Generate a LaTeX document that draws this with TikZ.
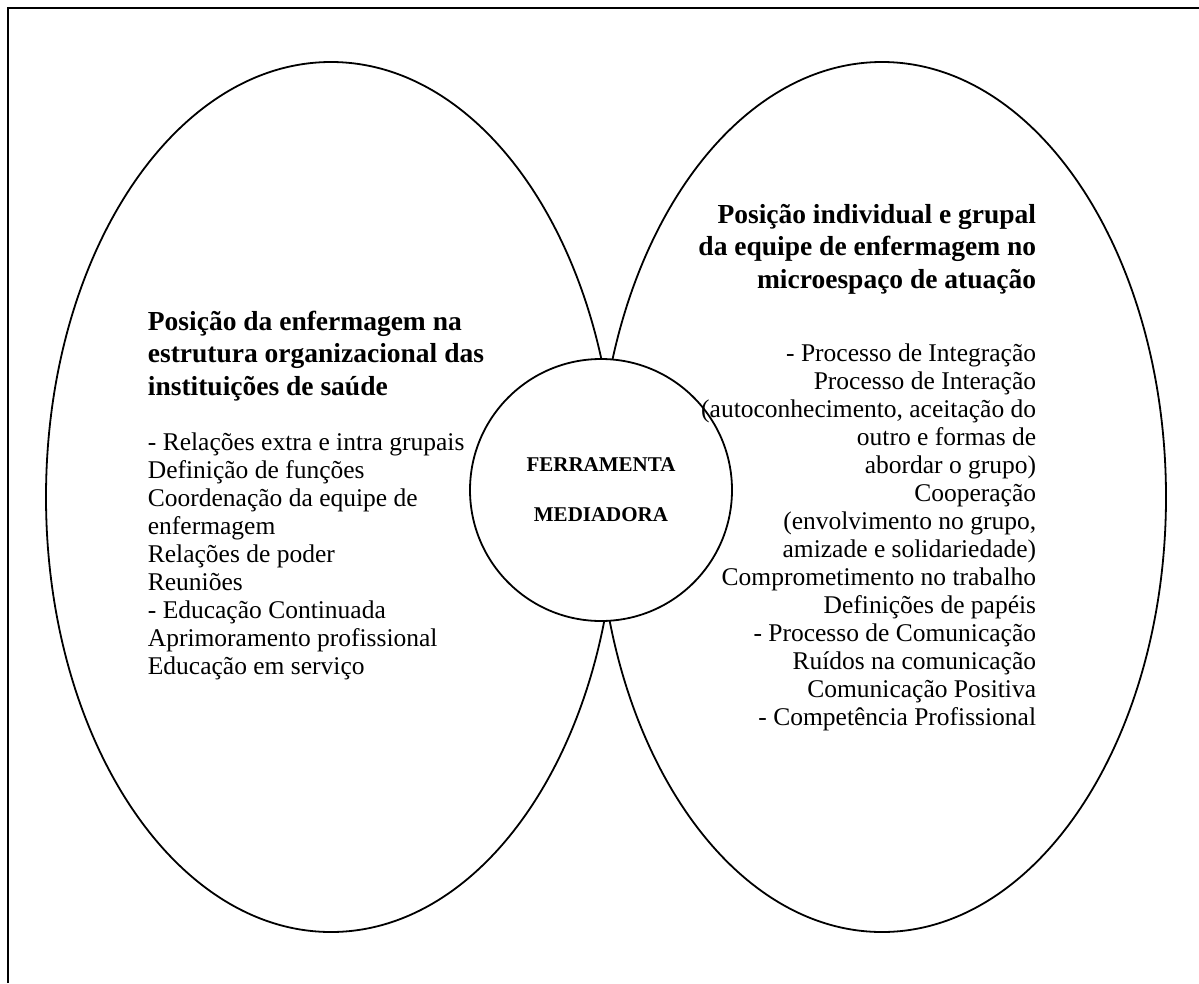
\documentclass[tikz,border=0pt]{standalone}
\usepackage{fontspec}
\setmainfont{Liberation Serif}
\begin{document}
\begin{tikzpicture}[x=1pt,y=-1pt,line width=1.8pt,
    titletext/.style={font=\fontsize{27.5}{32.5}\selectfont\bfseries,inner sep=0pt},
    bodytext/.style={font=\fontsize{25.5}{28}\selectfont,inner sep=0pt},
    toolcircle/.style={circle,draw,fill=white,minimum size=262pt,inner sep=0pt,
      align=center,font=\fontsize{21}{50}\selectfont\bfseries}]
		%%%%% FRAME %%%%%
		\useasboundingbox (0,0) rectangle (1199,983);
		\draw (8,983) -- (8,8) -- (1199,8);
		
		%%%%% ELLIPSES %%%%%
		\draw (331,497) ellipse [x radius=285pt,y radius=435pt];
		\draw (882,497) ellipse [x radius=284pt,y radius=435pt];
		
		\node[toolcircle] (mediadora) at (601,490) {FERRAMENTA\\MEDIADORA};
		
		%%%%% LEFT %%%%% (base = last line)
		\node[titletext,anchor=base west,align=left] (estrutura) at (147,395)
		{Posição da enfermagem na\\estrutura organizacional das\\instituições de saúde};
		\node[bodytext,anchor=base west,align=left] (estruturalista) at (147,674)
		{- Relações extra e intra grupais\\Definição de funções\\Coordenação da equipe de\\enfermagem\\Relações de poder\\Reuniões\\- Educação Continuada\\Aprimoramento profissional\\Educação em serviço};
		
		%%%%% RIGHT %%%%%
		\node[titletext,anchor=base east,align=right] (microespaco) at (1037,288)
		{Posição individual e grupal\\da equipe de enfermagem no\\microespaço de atuação};
		\node[bodytext,anchor=base east,align=right] (microlista) at (1037,725)
		{- Processo de Integração\\Processo de Interação\\(autoconhecimento, aceitação do\\outro e formas de\\abordar o grupo)\\Cooperação\\(envolvimento no grupo,\\amizade e solidariedade)\\Comprometimento no trabalho\\Definições de papéis\\- Processo de Comunicação\\Ruídos na comunicação\\Comunicação Positiva\\- Competência Profissional};
	\end{tikzpicture}
\end{document}
